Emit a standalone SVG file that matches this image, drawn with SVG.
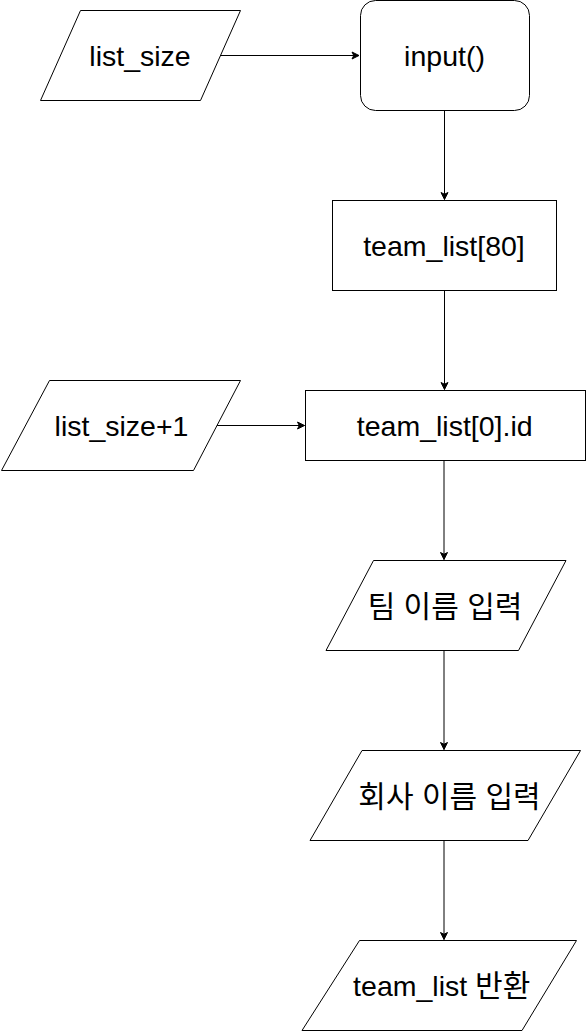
<svg xmlns="http://www.w3.org/2000/svg" width="586" height="1031" viewBox="0 0 586 1031">
  <style>
    .shape { fill: #ffffff; stroke: #000000; stroke-width: 1; }
    .label { font-family: "Liberation Sans", "Noto Sans CJK KR", Arial, sans-serif; font-size: 28.5px; fill: #000000; text-anchor: middle; }
    .ko { font-size: 30px; }
    .edge { fill: none; stroke: #000000; stroke-width: 1; marker-end: url(#arrow); }
  </style>
  <defs>
    <marker id="arrow" markerUnits="userSpaceOnUse" viewBox="-8 -5 9 10" refX="0" refY="0" markerWidth="9" markerHeight="10" orient="auto">
      <path d="M -7 -3.5 L 0 0 L -7 3.5 L -5.25 0 Z" fill="#000000" stroke="#000000" stroke-width="1"/>
    </marker>
  </defs>
  <rect width="586" height="1031" fill="#ffffff"/>

  <g id="connectors">
    <path class="edge" d="M 220 55.5 L 359 55.5"/>
    <path class="edge" d="M 444.5 110.5 L 444.5 199.5"/>
    <path class="edge" d="M 444.5 290.5 L 444.5 389.5"/>
    <path class="edge" d="M 216.5 425.5 L 304.5 425.5"/>
    <path class="edge" d="M 444 460.5 L 444 559.5"/>
    <path class="edge" d="M 444 650.5 L 444 749.5"/>
    <path class="edge" d="M 444 840.5 L 444 939.5"/>
  </g>

  <g id="node-list-size">
    <polygon class="shape" points="80.5,10.5 240.5,10.5 200.5,100.5 40.5,100.5"/>
    <text class="label" x="140" y="66">list_size</text>
  </g>

  <g id="node-input">
    <rect class="shape" x="360.5" y="0.5" width="169" height="110" rx="15" ry="15"/>
    <text class="label" x="444.5" y="66">input()</text>
  </g>

  <g id="node-team-list-80">
    <rect class="shape" x="332.5" y="200.5" width="224" height="90"/>
    <text class="label" x="444" y="256">team_list[80]</text>
  </g>

  <g id="node-list-size-plus-1">
    <polygon class="shape" points="49.5,380.5 240.5,380.5 193.5,470.5 1.5,470.5"/>
    <text class="label" x="121.5" y="436">list_size+1</text>
  </g>

  <g id="node-team-list-0-id">
    <rect class="shape" x="305.5" y="390.5" width="280" height="70"/>
    <text class="label" x="444.7" y="436">team_list[0].id</text>
  </g>

  <g id="node-team-name-input">
    <polygon class="shape" points="373.5,560.5 566,560.5 518.5,650.5 326,650.5"/>
    <text class="label ko" x="445" y="617">팀 이름 입력</text>
  </g>

  <g id="node-company-name-input">
    <polygon class="shape" points="362,750.5 580.5,750.5 528,840.5 310,840.5"/>
    <text class="label ko" x="449.5" y="807">회사 이름 입력</text>
  </g>

  <g id="node-return-team-list">
    <polygon class="shape" points="359.5,940.5 576.5,940.5 522,1030.5 302,1030.5"/>
    <text class="label" x="441.7" y="996">team_list <tspan class="ko">반환</tspan></text>
  </g>
</svg>
